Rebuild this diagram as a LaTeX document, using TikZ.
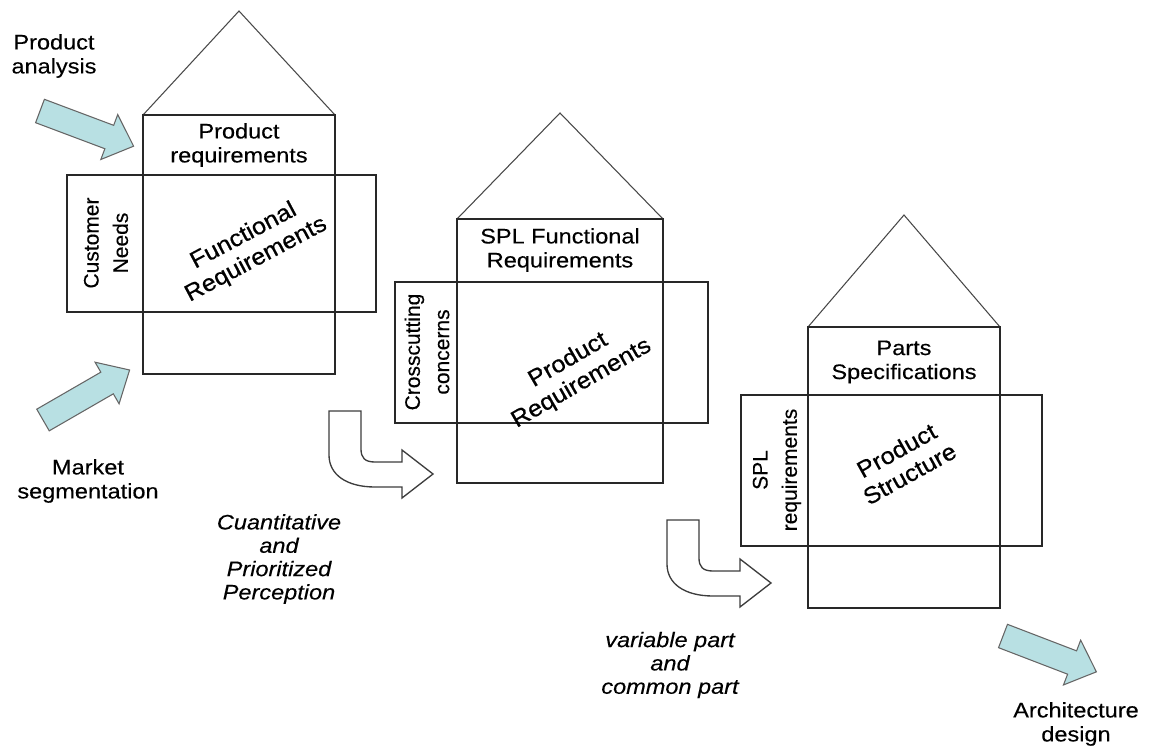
\documentclass[tikz,border=0pt]{standalone}
\usepackage{fontspec}
\setmainfont{Liberation Sans}[FakeStretch=1.12, FakeBold=0.3]
\newfontfamily\vfont{Liberation Sans}[FakeBold=0.3]
\newfontfamily\dfont{Liberation Sans}[FakeStretch=1.08, FakeBold=0.6]
\definecolor{arrowblue}{RGB}{184,224,227}
\definecolor{lineink}{RGB}{40,40,40}
\tikzset{
  box/.style={draw=lineink, line width=1.2pt},
  roof/.style={draw=lineink!85, line width=0.8pt, line join=miter},
  bluearrow/.style={fill=arrowblue, draw=black!60, line width=0.8pt, line join=miter},
  whitearrow/.style={fill=white, draw=lineink!90, line width=1pt, line join=miter},
  lbl/.style={font=\fontsize{15.75}{18}\selectfont, align=center, inner sep=0pt, text=black},
  vlbl/.style={lbl, rotate=90, font=\vfont\fontsize{15.75}{22}\selectfont},
  dlbl/.style={lbl, font=\dfont\fontsize{17.5}{20}\selectfont},
  ilbl/.style={lbl, font=\fontsize{15.75}{17.5}\selectfont\itshape}
}
\newcommand\fatarrow[3]{%
  \draw[bluearrow, shift={(#1,#2)}, rotate=#3]
    (0,-12.5) -- (74,-12.5) -- (74,-24) -- (100,0) -- (74,24) -- (74,12.5) -- (0,12.5) -- cycle;}
\newcommand\turnarrow[2]{%
  \draw[whitearrow, shift={(#1,#2)}]
    (0,0) -- (32,0) -- (32,38) .. controls (32,47) and (36,51) .. (46,51) -- (73,51)
    -- (73,39) -- (104,63) -- (73,87) -- (73,76) -- (46,76)
    .. controls (18,76) and (0,64) .. (0,44) -- cycle;}
\begin{document}
\begin{tikzpicture}[x=0.75pt, y=-0.75pt]
\useasboundingbox (0,0) rectangle (1154,746);

% ---------- House 1 ----------
\draw[roof] (143,115) -- (239,11) -- (335,115);
\draw[box] (143,115) rectangle (335,374);
\draw[box] (67,175) rectangle (376,312);
\node[lbl] (h1top) at (239,145) {Product\\requirements};
\node[vlbl] (h1side) at (106,243) {Customer\\Needs};
\node[dlbl, rotate=28] (h1main) at (250,248) {Functional\\Requirements};

% ---------- House 2 ----------
\draw[roof] (457,219) -- (560,113) -- (663,219);
\draw[box] (457,219) rectangle (663,483);
\draw[box] (395,282) rectangle (708,423);
\node[lbl] (h2top) at (560,250) {SPL Functional\\Requirements};
\node[vlbl] (h2side) at (427,352) {Crosscutting\\concerns};
\node[dlbl, rotate=30] (h2main) at (575,372) {Product\\Requirements};

% ---------- House 3 ----------
\draw[roof] (808,327) -- (904,215) -- (1000,327);
\draw[box] (808,327) rectangle (1000,608);
\draw[box] (741,395) rectangle (1042,546);
\node[lbl] (h3top) at (904,362) {Parts\\Specifications};
\node[vlbl] (h3side) at (777,470) {SPL\\requirements};
\node[dlbl, rotate=29] (h3main) at (903,462) {Product\\Structure};

% ---------- Blue arrows ----------
\fatarrow{40}{111}{-20.6}
\fatarrow{43}{420}{30}
\fatarrow{1003}{636}{-21}

% ---------- Turn arrows ----------
\turnarrow{329}{411}
\turnarrow{667}{520}

% ---------- Labels ----------
\node[lbl] (pa) at (54,56) {Product\\analysis};
\node[lbl] (ms) at (88,481) {Market\\segmentation};
\node[ilbl] (cq) at (279,559) {Cuantitative\\and\\Prioritized\\Perception};
\node[ilbl] (vp) at (670,665) {variable part\\and\\common part};
\node[lbl] (ad) at (1076,724) {Architecture\\design};
\end{tikzpicture}
\end{document}
